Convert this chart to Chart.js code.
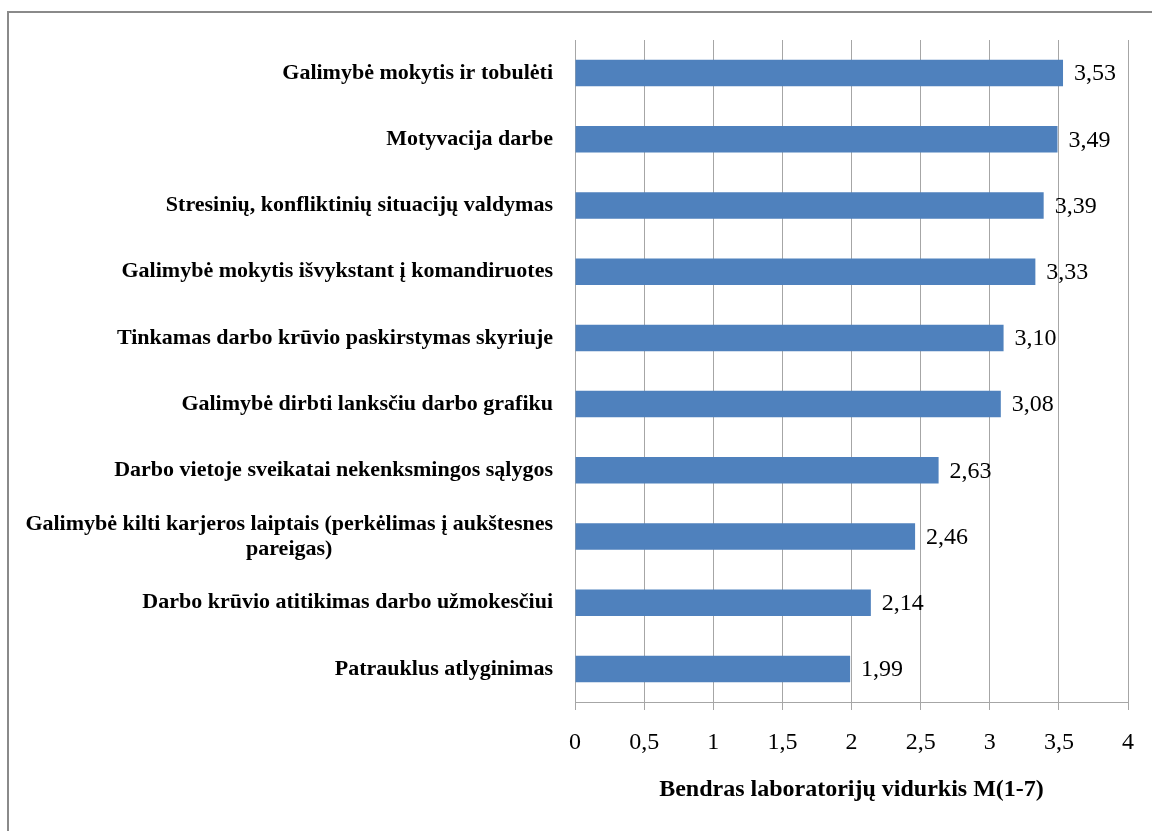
<!DOCTYPE html>
<html lang="lt">
<head>
<meta charset="utf-8">
<title>Bendras laboratorijų vidurkis</title>
<script src="https://cdn.jsdelivr.net/npm/chart.js@4"></script>
<style>
  html, body { margin: 0; padding: 0; background: #fff; overflow: hidden; }
  #frame { position: absolute; left: 7px; top: 11px; width: 1200px; height: 900px; border: 2px solid #8a8a8a; }
  #wrap { position: absolute; left: 0; top: 0; width: 1152px; height: 831px; }
</style>
</head>
<body>
<div id="frame"></div>
<div id="wrap"><canvas id="chart"></canvas></div>
<script>
"use strict";

const categories = [
  "Galimybė mokytis ir tobulėti",
  "Motyvacija darbe",
  "Stresinių, konfliktinių situacijų valdymas",
  "Galimybė mokytis išvykstant į komandiruotes",
  "Tinkamas darbo krūvio paskirstymas skyriuje",
  "Galimybė dirbti lanksčiu darbo grafiku",
  "Darbo vietoje sveikatai nekenksmingos sąlygos",
  ["Galimybė kilti karjeros laiptais (perkėlimas į aukštesnes", "pareigas)"],
  "Darbo krūvio atitikimas darbo užmokesčiui",
  "Patrauklus atlyginimas"
];
const values = [3.53, 3.49, 3.39, 3.33, 3.10, 3.08, 2.63, 2.46, 2.14, 1.99];
const tickLabels = ["0", "0,5", "1", "1,5", "2", "2,5", "3", "3,5", "4"];
const axisTitle = "Bendras laboratorijų vidurkis M(1-7)";

const SERIF = "'Liberation Serif', 'Times New Roman', serif";
const GRID = "#a6a6a6";

// category names left of the axis, wrapped lines centred under each other
const categoryLabels = {
  id: "categoryLabels",
  afterDraw(chart) {
    const { ctx, chartArea, scales: { y } } = chart;
    ctx.save();
    ctx.font = `bold 22px ${SERIF}`;
    ctx.fillStyle = "#000";
    ctx.textBaseline = "middle";
    ctx.textAlign = "center";
    const right = chartArea.left - 22;
    categories.forEach((label, i) => {
      const lines = Array.isArray(label) ? label : [label];
      const widest = Math.max(...lines.map(l => ctx.measureText(l).width));
      const cx = right - widest / 2;
      const cy = y.getPixelForValue(i);
      lines.forEach((line, j) => {
        ctx.fillText(line, cx, cy + (j - (lines.length - 1) / 2) * 25);
      });
    });
    ctx.restore();
  }
};

// value printed just past the end of each bar
const valueLabels = {
  id: "valueLabels",
  afterDatasetsDraw(chart) {
    const { ctx } = chart;
    const meta = chart.getDatasetMeta(0);
    ctx.save();
    ctx.font = `24px ${SERIF}`;
    ctx.fillStyle = "#000";
    ctx.textBaseline = "middle";
    ctx.textAlign = "left";
    meta.data.forEach((bar, i) => {
      ctx.fillText(values[i].toFixed(2).replace(".", ","), bar.x + 11, bar.y + 1);
    });
    ctx.restore();
  }
};

new Chart(document.getElementById("chart"), {
  type: "bar",
  data: {
    labels: categories,
    datasets: [{
      data: values,
      backgroundColor: "#4f81bd",
      borderWidth: 0,
      categoryPercentage: 1,
      barPercentage: 0.4
    }]
  },
  options: {
    indexAxis: "y",
    responsive: true,
    maintainAspectRatio: false,
    animation: false,
    layout: { padding: { top: 40, right: 22, left: 0, bottom: 0 } },
    plugins: {
      legend: { display: false },
      tooltip: { enabled: false }
    },
    scales: {
      x: {
        min: 0,
        max: 4,
        ticks: {
          stepSize: 0.5,
          padding: 18,
          color: "#000",
          font: { family: SERIF, size: 24 },
          callback: (v, i) => tickLabels[i]
        },
        grid: { color: GRID, lineWidth: 1, tickLength: 8, tickColor: GRID },
        border: { color: GRID },
        title: {
          display: true,
          text: axisTitle,
          color: "#000",
          font: { family: SERIF, size: 24, weight: "bold" },
          padding: { top: 0, bottom: 27 }
        },
        afterFit(scale) { scale.height = 129; }
      },
      y: {
        ticks: { display: false },
        grid: { display: false, drawTicks: false },
        border: { display: true, color: GRID },
        afterFit(scale) { scale.width = 575; }
      }
    }
  },
  plugins: [categoryLabels, valueLabels]
});
</script>
</body>
</html>
